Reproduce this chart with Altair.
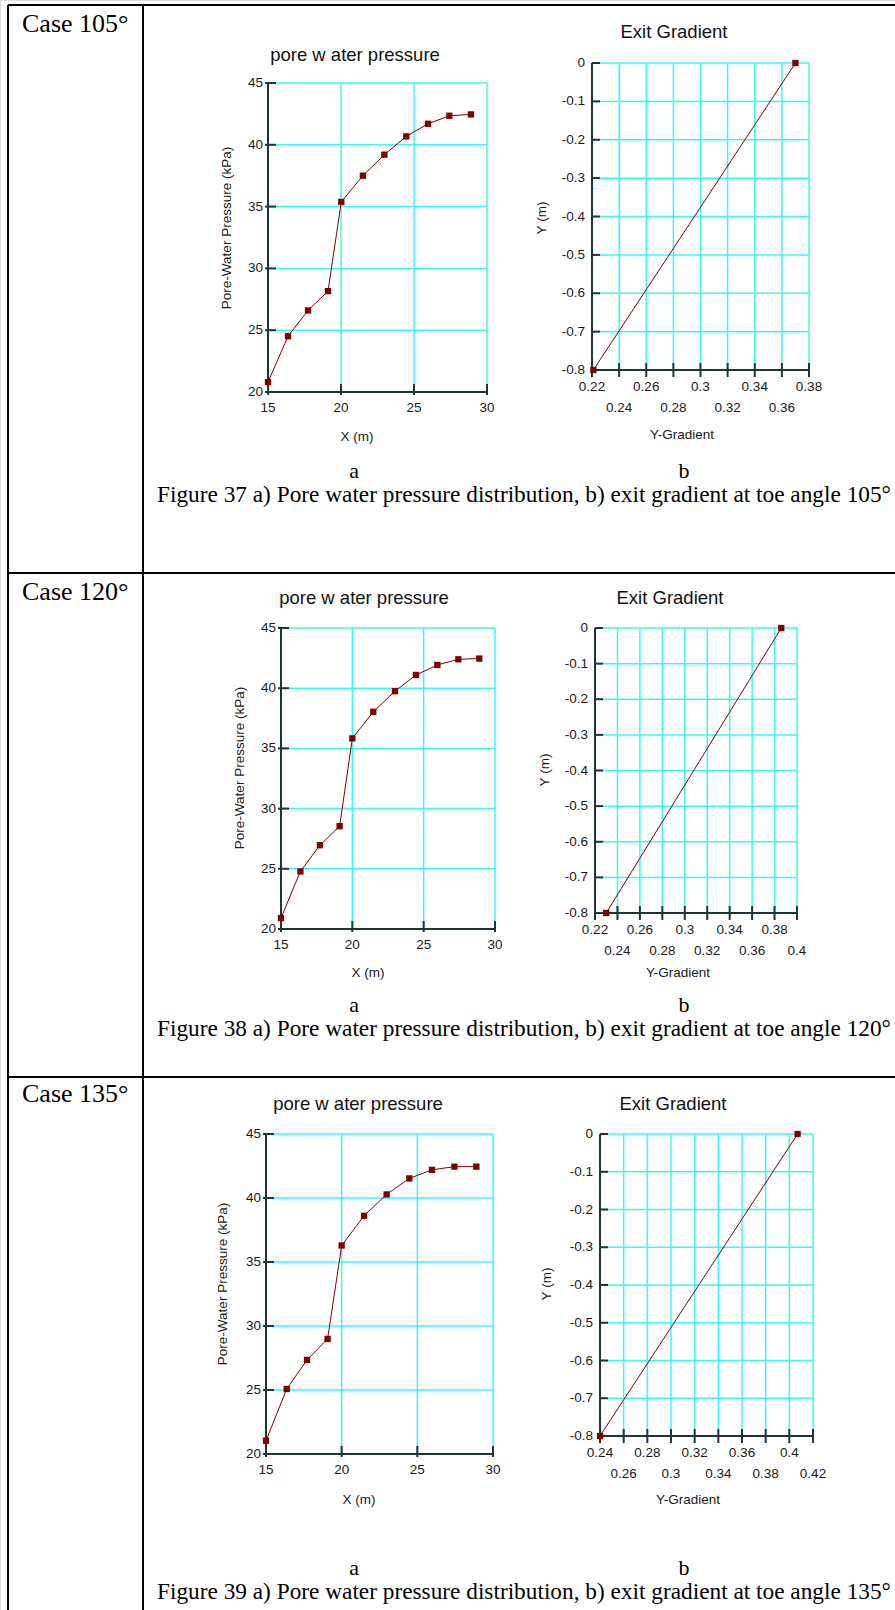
import altair as alt
import pandas as pd

W, H = 895, 1610
SANS = "Liberation Sans"
SERIF = "Liberation Serif"
GRID = "#3cf7f7"
AXIS = "#1d3535"
RED = "#800000"
INK = "#1a1a1a"

# ---------------- data ----------------
pwp_x_105 = [15.0, 16.37, 17.74, 19.11, 20.02, 21.5, 22.97, 24.47, 25.96, 27.42, 28.9]
pwp_y_105 = [20.8, 24.51, 26.6, 28.16, 35.38, 37.5, 39.2, 40.68, 41.7, 42.35, 42.46]
pwp_x_120 = [15.0, 16.36, 17.73, 19.11, 20.0, 21.47, 22.99, 24.46, 25.96, 27.43, 28.9]
pwp_y_120 = [20.91, 24.78, 26.96, 28.54, 35.83, 38.04, 39.75, 41.1, 41.93, 42.4, 42.46]
pwp_x_135 = [15.0, 16.37, 17.71, 19.07, 20.0, 21.48, 22.97, 24.47, 25.97, 27.45, 28.9]
pwp_y_135 = [21.04, 25.08, 27.35, 28.99, 36.29, 38.61, 40.28, 41.53, 42.2, 42.45, 42.45]

eg_x_105 = [0.221, 0.370]
eg_x_120 = [0.230, 0.386]
eg_x_135 = [0.240, 0.407]
eg_y = [-0.8, 0.0]

pwp_xticks = [15, 20, 25, 30]
pwp_yticks = [20, 25, 30, 35, 40, 45]
eg_yticks = [-0.8, -0.7, -0.6, -0.5, -0.4, -0.3, -0.2, -0.1, 0]
eg_xticks_105 = [0.22, 0.24, 0.26, 0.28, 0.3, 0.32, 0.34, 0.36, 0.38]
eg_xticks_120 = [0.22, 0.24, 0.26, 0.28, 0.3, 0.32, 0.34, 0.36, 0.38, 0.4]
eg_xticks_135 = [0.24, 0.26, 0.28, 0.3, 0.32, 0.34, 0.36, 0.38, 0.4, 0.42]

case_labels = ["Case 105°", "Case 120°", "Case 135°"]
captions = [
    "Figure 37 a) Pore water pressure distribution, b) exit gradient at toe angle 105°",
    "Figure 38 a) Pore water pressure distribution, b) exit gradient at toe angle 120°",
    "Figure 39 a) Pore water pressure distribution, b) exit gradient at toe angle 135°",
]
pwp_title = "pore w ater pressure"
eg_title = "Exit Gradient"
pwp_xlabel = "X (m)"
pwp_ylabel = "Pore-Water Pressure (kPa)"
eg_xlabel = "Y-Gradient"
eg_ylabel = "Y (m)"

dummy = pd.DataFrame({"d": [0]})
LAB = 13.5


def fmt(v):
    return "{:g}".format(v)


def text(s, x, y, font, size, align="center", baseline="middle", color="black", angle=0):
    return alt.Chart(dummy).mark_text(font=font, fontSize=size, align=align,
                                      baseline=baseline, color=color, angle=angle).encode(
        x=alt.value(x), y=alt.value(y), text=alt.value(s))


def panel(xv, yv, xdom, ydom, xr, yr, xticks, yticks, xlab, ylab,
          xt_pos, yt_pos, kind, parity=0):
    df = pd.DataFrame({"x": xv, "y": yv})
    xs = alt.Scale(domain=xdom, range=xr, nice=False, zero=False)
    ys = alt.Scale(domain=ydom, range=yr, nice=False, zero=False)
    xmin, xmax = xdom
    ymin, ymax = ydom

    def XF(f):
        return alt.X(f, scale=xs, axis=None)

    def YF(f):
        return alt.Y(f, scale=ys, axis=None)

    def XD(v):
        return alt.XDatum(v, scale=xs, axis=None)

    def YD(v):
        return alt.YDatum(v, scale=ys, axis=None)

    layers = []
    # grid
    layers.append(alt.Chart(pd.DataFrame({"v": xticks[1:]})).mark_rule(
        color=GRID, strokeWidth=1.5).encode(
        x=XF("v:Q"), y=YD(ymin), y2=alt.Y2Datum(ymax)))
    layers.append(alt.Chart(pd.DataFrame({"v": yticks[1:]})).mark_rule(
        color=GRID, strokeWidth=1.5).encode(
        y=YF("v:Q"), x=XD(xmin), x2=alt.X2Datum(xmax)))
    # axis lines
    layers.append(alt.Chart(dummy).mark_rule(color=AXIS, strokeWidth=2).encode(
        x=XD(xmin), y=YD(ymin), y2=alt.Y2Datum(ymax)))
    layers.append(alt.Chart(dummy).mark_rule(color=AXIS, strokeWidth=2).encode(
        y=YD(ymin), x=XD(xmin), x2=alt.X2Datum(xmax)))
    # ticks
    layers.append(alt.Chart(pd.DataFrame({"v": yticks})).mark_rule(
        color=AXIS, strokeWidth=2, xOffset=(-3 if kind == "a" else 0), x2Offset=8).encode(
        y=YF("v:Q"), x=XD(xmin), x2=alt.X2Datum(xmin)))
    layers.append(alt.Chart(pd.DataFrame({"v": xticks})).mark_rule(
        color=AXIS, strokeWidth=2, yOffset=(3 if kind == "a" else 7),
        y2Offset=(-8 if kind == "a" else -7)).encode(
        x=XF("v:Q"), y=YD(ymin), y2=alt.Y2Datum(ymin)))
    # tick labels
    ydf = pd.DataFrame({"v": yticks, "t": [fmt(v) for v in yticks]})
    layers.append(alt.Chart(ydf).mark_text(
        align="right", baseline="middle", dx=(-5 if kind == "a" else -7),
        font=SANS, fontSize=LAB, color=INK).encode(
        y=YF("v:Q"), x=XD(xmin), text="t:N"))
    if kind == "a":
        rows = [(xticks, 16)]
    else:
        r1 = [v for v in xticks if round(v * 100) % 4 == parity]
        r2 = [v for v in xticks if round(v * 100) % 4 != parity]
        rows = [(r1, 17), (r2, 38)]
    for vals, dy in rows:
        xdf = pd.DataFrame({"v": vals, "t": [fmt(v) for v in vals]})
        layers.append(alt.Chart(xdf).mark_text(
            align="center", baseline="middle", dy=dy,
            font=SANS, fontSize=LAB, color=INK).encode(
            x=XF("v:Q"), y=YD(ymin), text="t:N"))
    # data
    layers.append(alt.Chart(df).mark_line(color=RED, strokeWidth=1).encode(
        x=XF("x:Q"), y=YF("y:Q")))
    layers.append(alt.Chart(df).mark_point(shape="square", filled=True, size=40,
                                           color=RED, opacity=1).encode(
        x=XF("x:Q"), y=YF("y:Q")))
    # axis titles
    layers.append(text(xlab, xt_pos[0], xt_pos[1], SANS, 13.5, color=INK))
    layers.append(text(ylab, yt_pos[0], yt_pos[1], SANS, 13.5, color=INK, angle=270))
    return alt.layer(*layers)


def hline(y, x1, x2):
    return alt.Chart(dummy).mark_rule(color="black", strokeWidth=2).encode(
        x=alt.value(x1), x2=alt.value(x2), y=alt.value(y))


def vline(x, y1, y2):
    return alt.Chart(dummy).mark_rule(color="black", strokeWidth=2).encode(
        x=alt.value(x), y=alt.value(y1), y2=alt.value(y2))


panels = [
    panel(pwp_x_105, pwp_y_105, [15, 30], [20, 45], [268, 487], [392, 83],
          pwp_xticks, pwp_yticks, pwp_xlabel, pwp_ylabel, (357, 437), (227, 228), "a"),
    panel(eg_x_105, eg_y, [0.22, 0.38], [-0.8, 0], [592, 809], [370, 63],
          eg_xticks_105, eg_yticks, eg_xlabel, eg_ylabel, (682, 435), (542, 218), "b", 2),
    panel(pwp_x_120, pwp_y_120, [15, 30], [20, 45], [281, 495], [929, 628],
          pwp_xticks, pwp_yticks, pwp_xlabel, pwp_ylabel, (368, 973), (240, 768), "a"),
    panel(eg_x_120, eg_y, [0.22, 0.4], [-0.8, 0], [595, 797], [913, 628],
          eg_xticks_120, eg_yticks, eg_xlabel, eg_ylabel, (678, 973), (545, 770), "b", 2),
    panel(pwp_x_135, pwp_y_135, [15, 30], [20, 45], [266, 493], [1454, 1134],
          pwp_xticks, pwp_yticks, pwp_xlabel, pwp_ylabel, (359, 1500), (223, 1284), "a"),
    panel(eg_x_135, eg_y, [0.24, 0.42], [-0.8, 0], [600, 813], [1436, 1134],
          eg_xticks_135, eg_yticks, eg_xlabel, eg_ylabel, (688, 1500), (547, 1284), "b", 0),
]

decor = [
    hline(5, 8, 900), hline(573, 8, 900), hline(1077, 8, 900),
    vline(8, 5, 1620), vline(143, 5, 1620),
]
case_y = [32, 600, 1102]
ab_y = [471, 1005, 1568]
cap_y = [495, 1029, 1592]
for i in range(3):
    decor.append(text(case_labels[i], 22, case_y[i], SERIF, 26, align="left",
                      baseline="alphabetic"))
    decor.append(text("a", 354, ab_y[i], SERIF, 22))
    decor.append(text("b", 684, ab_y[i], SERIF, 22))
    decor.append(text(captions[i], 157, cap_y[i], SERIF, 23.3, align="left"))

titles_pos = [
    (pwp_title, 355, 55), (eg_title, 674, 32),
    (pwp_title, 364, 598), (eg_title, 670, 598),
    (pwp_title, 358, 1104), (eg_title, 673, 1104),
]
for s, x, y in titles_pos:
    decor.append(text(s, x, y, SANS, 18.5, color="#111111"))

chart = alt.layer(*decor, *panels).resolve_scale(
    x="independent", y="independent").properties(
    width=W, height=H, padding=0,
    autosize=alt.AutoSizeParams(type="none")).configure_view(
    stroke=None).configure(background="white")

chart.save("out.html", embed_options={"renderer": "svg", "actions": False})
